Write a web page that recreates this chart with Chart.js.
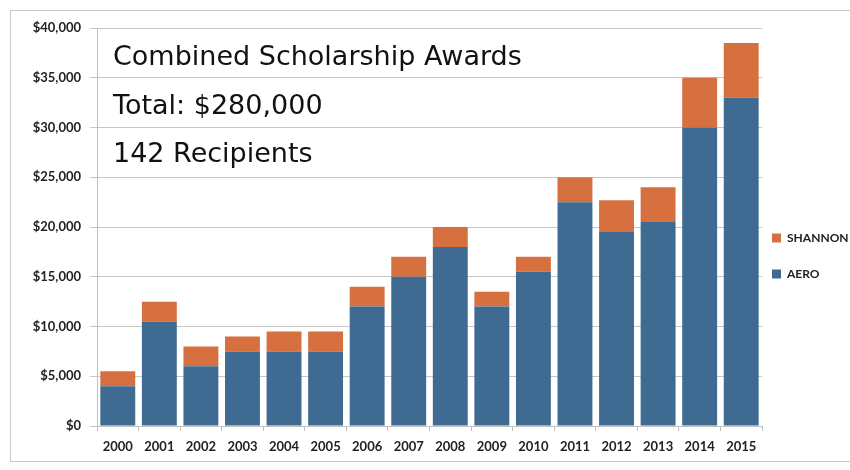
<!DOCTYPE html>
<html>
<head>
<meta charset="utf-8">
<script src="https://cdn.jsdelivr.net/npm/chart.js@4.4.1/dist/chart.umd.min.js"></script>
<style>
html,body{margin:0;padding:0;background:#fff;}
#wrap{width:850px;height:470px;position:relative;}
</style>
</head>
<body>
<div id="wrap"><canvas id="c" width="850" height="470"></canvas></div>
<script>
const years = ['2000','2001','2002','2003','2004','2005','2006','2007','2008','2009','2010','2011','2012','2013','2014','2015'];
const aero = [4000,10500,6000,7500,7500,7500,12000,15000,18000,12000,15500,22500,19500,20500,30000,33000];
const shannon = [1500,2000,2000,1500,2000,2000,2000,2000,2000,1500,1500,2500,3200,3500,5000,5500];
const yTicks = [0,5000,10000,15000,20000,25000,30000,35000,40000];
const overlayLines = ['Combined Scholarship Awards','Total: $280,000','142 Recipients'];

const borderPlugin = {
  id:'frame',
  beforeDraw(chart){
    const ctx = chart.ctx;
    ctx.save();
    ctx.fillStyle = '#fff';
    ctx.fillRect(0,0,chart.width,chart.height);
    ctx.strokeStyle = '#c8c8c8';
    ctx.lineWidth = 1;
    ctx.strokeRect(10.5,10.5,chart.width+20,451);
    ctx.restore();
  },
  afterDatasetsDraw(chart){
    const ctx = chart.ctx;
    const ys = chart.scales.y;
    ctx.save();
    ctx.fillStyle = '#111';
    ctx.font = '27px "DejaVu Sans", Verdana, sans-serif';
    ctx.textBaseline = 'middle';
    const centers = [37000, 32050, 27250];
    overlayLines.forEach((t,i)=>{
      ctx.fillText(t, 113, ys.getPixelForValue(centers[i]));
    });
    ctx.restore();
  }
};

const legendPlacePlugin = {
  id:'legendPlace',
  beforeInit(chart){
    const lg = chart.legend;
    if(!lg) return;
    const orig = lg.fit;
    lg.fit = function(){
      orig.call(this);
      this.width = 88;
    };
  },
  afterLayout(chart){
    const lg = chart.legend;
    if(!lg) return;
    lg.left -= 14;
    lg.top += 7; lg.bottom += 7;
  }
};

new Chart(document.getElementById('c'), {
  type:'bar',
  data:{
    labels: years,
    datasets:[
      {label:'AERO', data: aero, backgroundColor:'#3f6a91', stack:'s'},
      {label:'SHANNON', data: shannon, backgroundColor:'#d6703f', stack:'s'}
    ]
  },
  options:{
    responsive:false,
    animation:false,
    devicePixelRatio:1,
    layout:{padding:{top:28,right:0,bottom:0,left:0}},
    datasets:{bar:{categoryPercentage:1.0, barPercentage:0.84}},
    scales:{
      x:{
        stacked:true,
        offset:true,
        grid:{display:true, drawOnChartArea:false, offset:true, tickLength:5, color:'#c0c0c0'},
        border:{display:true, color:'#c0c0c0'},
        ticks:{color:'#222', padding:8, font:{family:'Lato', size:13, weight:'bold'}, maxRotation:0},
        afterFit(s){ s.height = 44; }
      },
      y:{
        stacked:true,
        min:0, max:40000,
        afterBuildTicks(s){ s.ticks = yTicks.map(v=>({value:v})); },
        grid:{color:'#c6c6c6', tickLength:7},
        border:{display:true, color:'#c0c0c0'},
        ticks:{color:'#222', padding:9, font:{family:'Lato', size:13, weight:'bold'},
          callback:(v)=>'$'+Number(v).toLocaleString('en-US')},
        afterFit(s){ s.width = 97; }
      }
    },
    plugins:{
      legend:{
        position:'right',
        reverse:true,
        labels:{boxWidth:9, boxHeight:9, padding:24, color:'#222', font:{family:'Lato', size:12, weight:'bold'}}
      },
      tooltip:{enabled:false}
    }
  },
  plugins:[borderPlugin, legendPlacePlugin]
});
</script>
</body>
</html>
